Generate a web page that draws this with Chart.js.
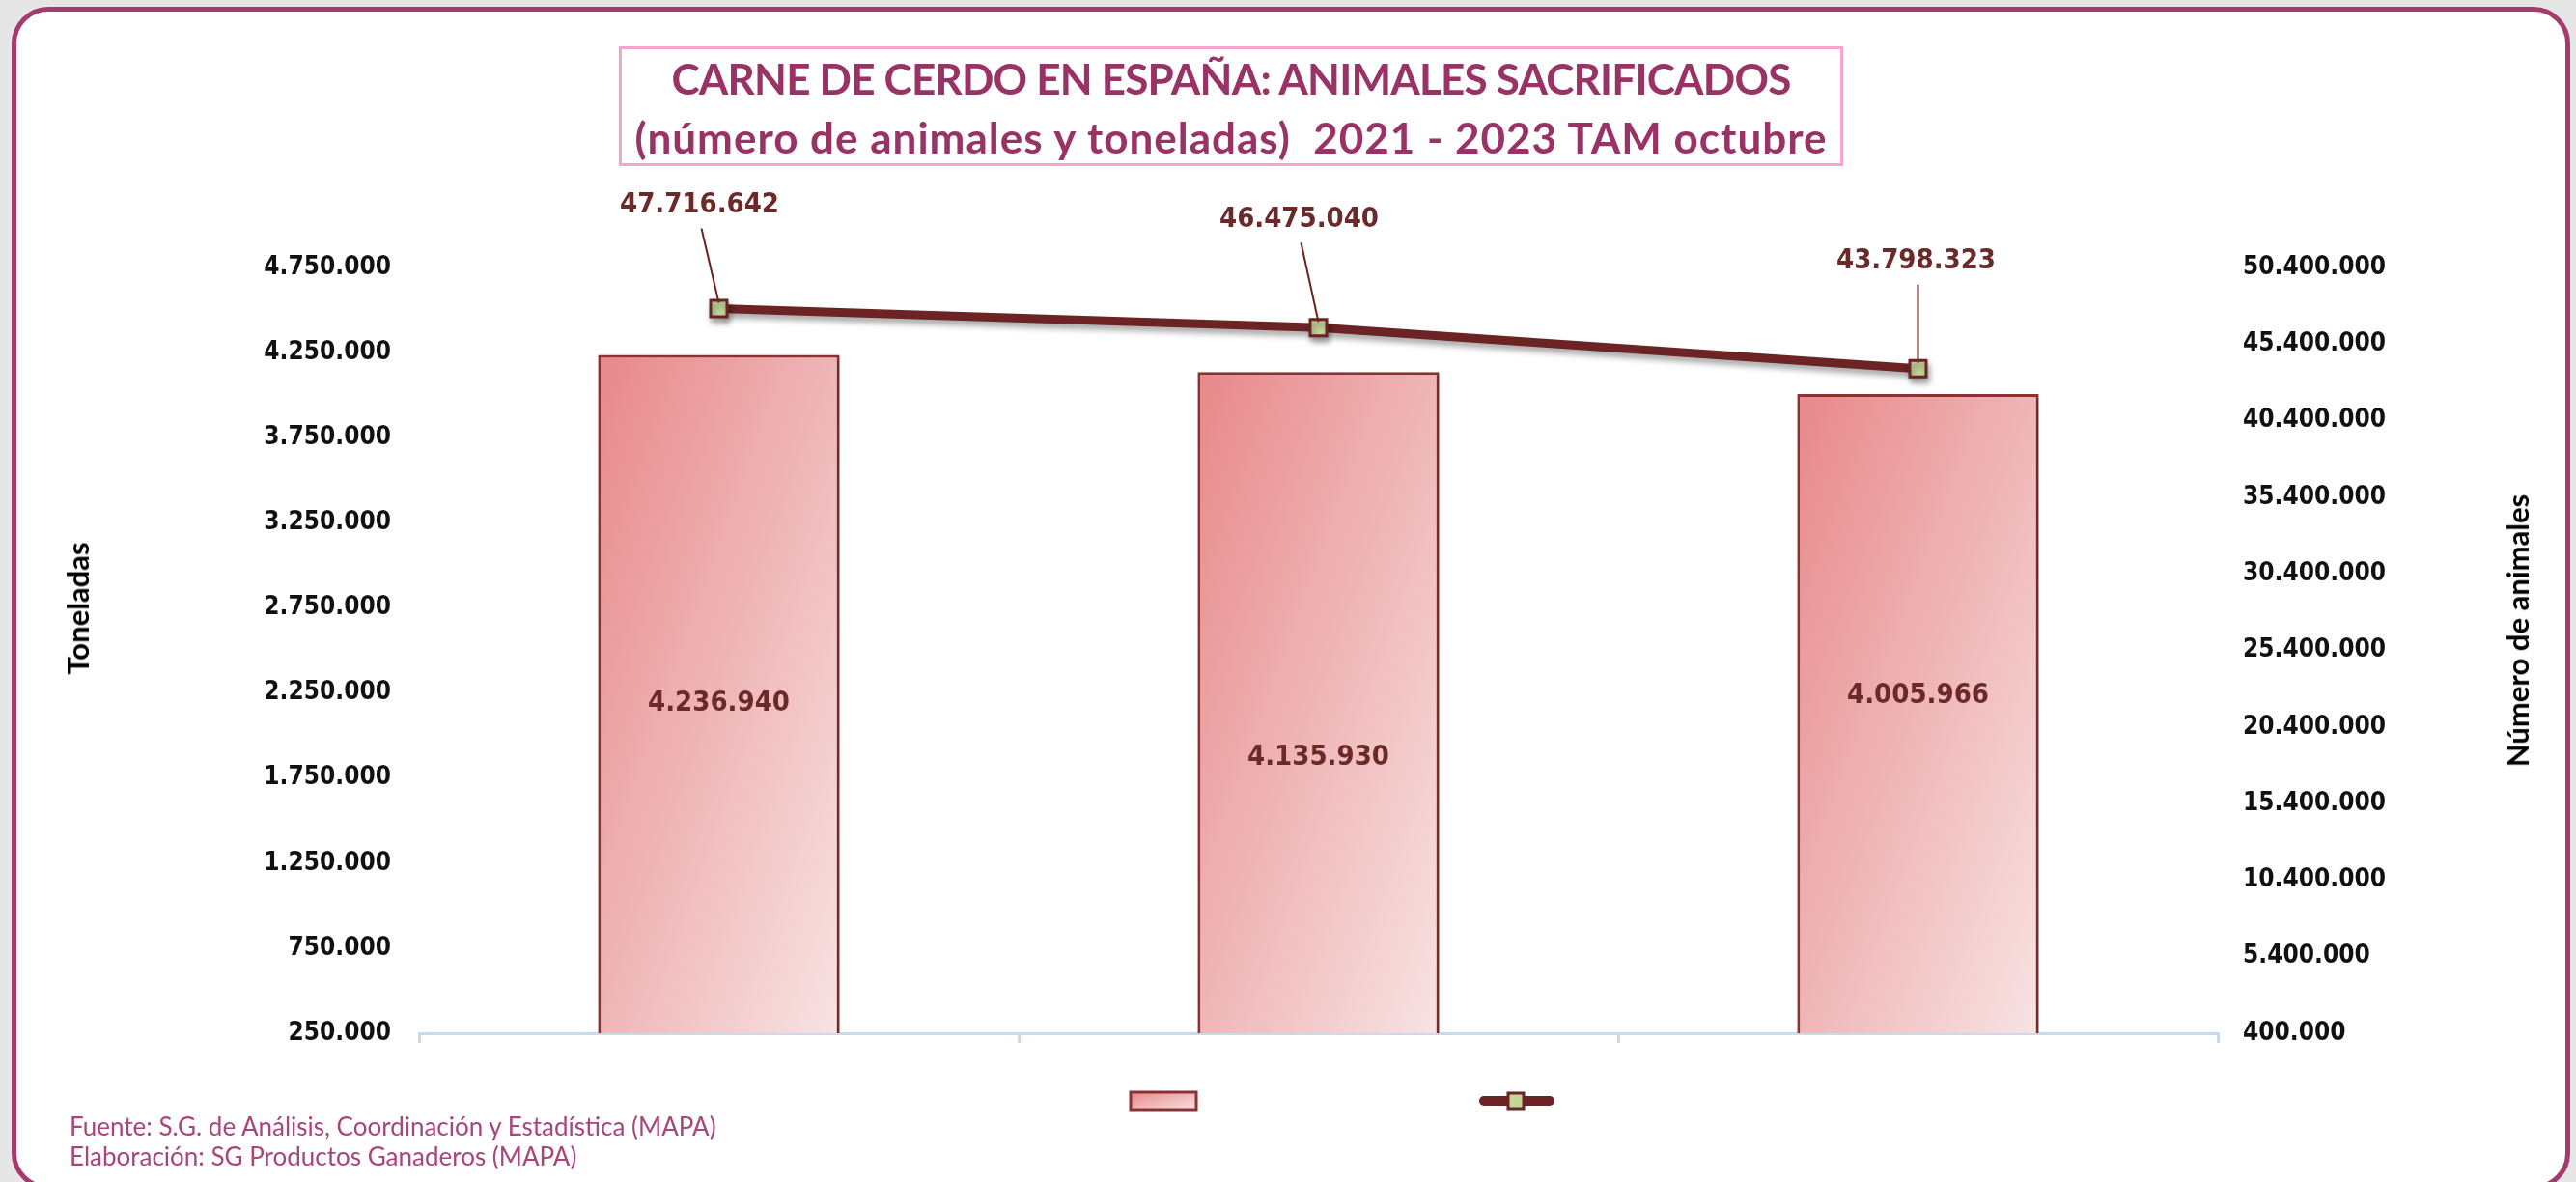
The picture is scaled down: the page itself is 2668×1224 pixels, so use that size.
<!DOCTYPE html>
<html lang="es">
<head>
<meta charset="utf-8">
<title>Carne de cerdo en España</title>
<script src="https://cdn.jsdelivr.net/npm/chart.js@4.4.1/dist/chart.umd.min.js"></script>
<style>
  html, body { margin: 0; padding: 0; }
  body {
    width: 2668px; height: 1224px; position: relative; overflow: hidden;
    background: #e6e6e6; font-family: Lato, "Noto Sans", sans-serif;
  }
  #frame {
    position: absolute; left: 12px; top: 7px; width: 2650px; height: 1225px;
    box-sizing: border-box; border: 5px solid #a53a6e; border-radius: 38px; background: #fff;
  }
  #chart { position: absolute; left: 0; top: 0; }
  #title {
    position: absolute; left: 641px; top: 48px; width: 1268px; height: 124px;
    box-sizing: border-box; border: 3px solid #f5a3cf;
    color: #993366; font-weight: 700; font-size: 44px; line-height: 61px; text-align: center;
    white-space: pre;
  }
  #title .l1 { letter-spacing: -0.8px; }
  #title .l2 { letter-spacing: 1px; }
  .axis-title {
    position: absolute; font-weight: 700; font-size: 31px; color: #000; white-space: nowrap;
    transform: translate(-50%, -50%) rotate(-90deg);
  }
  #footer {
    position: absolute; left: 72px; top: 1151px;
    color: #a8467c; font-size: 26px; line-height: 31px;
  }
</style>
</head>
<body>
<div id="frame"></div>
<canvas id="chart" width="2668" height="1224"></canvas>
<div id="title"><span class="l1">CARNE DE CERDO EN ESPAÑA: ANIMALES SACRIFICADOS</span>
<span class="l2">(número de animales y toneladas)  2021 - 2023 TAM octubre</span></div>
<div class="axis-title" style="left:80px; top:630px;">Toneladas</div>
<div class="axis-title" style="left:2607px; top:653px;">Número de animales</div>
<div id="footer">Fuente: S.G. de Análisis, Coordinación y Estadística (MAPA)<br>Elaboración: SG Productos Ganaderos (MAPA)</div>

<script>
/* ======================================
   DATA
====================================== */
const categories = ["2021", "2022", "2023"];
const toneladas = [4236940, 4135930, 4005966];
const animales = [47716642, 46475040, 43798323];

const tonAxis = { min: 250000, max: 4750000, step: 500000 };
const animAxis = { min: 400000, max: 50400000, step: 5000000 };

// label nudges (px), as placed by hand in the original
const barLabelShift = [10, 57, -19];
const lineLabelShift = [[-20, -107], [-20, -112], [-2, -111]];


/* ======================================
   STYLE
====================================== */
const LINE_COLOR = "#6b2323";
const BAR_BORDER = "#8e3131";
const MARKER_FILL = "#c4d79b";
const LABEL_COLOR = "#6b2929";
const AXIS_BLUE = "#c9d9ef";
const BAR_PCT = 0.403;
const NUM_FONT = "'DejaVu Sans Condensed', 'DejaVu Sans', sans-serif";


/* ======================================
   HELPERS
====================================== */
function fmt(v) {
  return String(Math.round(v)).replace(/\B(?=(\d{3})+(?!\d))/g, ".");
}

// diagonal fill like the excel bars: dark top-left, pale bottom-right
function rectGradient(ctx, x, y, w, h) {
  const k = 2 * w * h / (w * w + h * h);
  const g = ctx.createLinearGradient(x, y, x + h * k, y + w * k);
  g.addColorStop(0, "#e8888a");
  g.addColorStop(0.5, "#efb6b7");
  g.addColorStop(1, "#f8e3e3");
  return g;
}

function barFill(c) {
  const chart = c.chart;
  const area = chart.chartArea;
  if (!area || c.type !== "data") return "#efb6b7";
  const w = (area.right - area.left) / categories.length * BAR_PCT;
  const x = chart.scales.x.getPixelForValue(c.dataIndex) - w / 2;
  const top = chart.scales.y.getPixelForValue(c.raw);
  return rectGradient(chart.ctx, x, top, w, area.bottom - top);
}


/* ======================================
   PLUGINS
====================================== */
const shadowPlugin = {
  id: "shadows",
  beforeDatasetDraw(chart, args) {
    const ctx = chart.ctx;
    ctx.save();
    if (args.meta.type === "line") {
      ctx.shadowColor = "rgba(0,0,0,0.35)";
      ctx.shadowBlur = 6;
      ctx.shadowOffsetX = 2;
      ctx.shadowOffsetY = 5;
    } else {
      ctx.shadowColor = "rgba(0,0,0,0.2)";
      ctx.shadowBlur = 5;
      ctx.shadowOffsetX = 3;
      ctx.shadowOffsetY = 2;
    }
  },
  afterDatasetDraw(chart) {
    chart.ctx.restore();
  }
};

const labelPlugin = {
  id: "valueLabels",
  afterDatasetsDraw(chart) {
    const ctx = chart.ctx;
    const bottom = chart.chartArea.bottom;
    ctx.save();
    ctx.font = "bold 29px " + NUM_FONT;
    ctx.fillStyle = LABEL_COLOR;
    ctx.textAlign = "center";
    ctx.textBaseline = "middle";

    // bar base sits at 0, below the axis min, so use the visible bottom
    chart.getDatasetMeta(0).data.forEach((bar, i) => {
      const y = (bar.y + Math.min(bar.base, bottom)) / 2 + barLabelShift[i];
      ctx.fillText(fmt(toneladas[i]), bar.x, y);
    });

    chart.getDatasetMeta(1).data.forEach((pt, i) => {
      const lx = pt.x + lineLabelShift[i][0];
      const ly = pt.y + lineLabelShift[i][1];
      ctx.strokeStyle = LINE_COLOR;
      ctx.lineWidth = 2;
      ctx.beginPath();
      ctx.moveTo(lx + 2, ly + 24);
      ctx.lineTo(pt.x, pt.y - 6);
      ctx.stroke();
      ctx.fillText(fmt(animales[i]), lx, ly);
    });
    ctx.restore();
  }
};

// legend without text: only the two swatches
const swatchPlugin = {
  id: "swatches",
  afterDraw(chart) {
    const ctx = chart.ctx;
    ctx.save();
    ctx.fillStyle = rectGradient(ctx, 1171, 1131, 68, 18);
    ctx.fillRect(1171, 1131, 68, 18);
    ctx.strokeStyle = BAR_BORDER;
    ctx.lineWidth = 3;
    ctx.strokeRect(1171, 1131, 68, 18);

    ctx.strokeStyle = LINE_COLOR;
    ctx.lineWidth = 10;
    ctx.lineCap = "round";
    ctx.beginPath();
    ctx.moveTo(1537, 1140);
    ctx.lineTo(1605, 1140);
    ctx.stroke();
    ctx.fillStyle = MARKER_FILL;
    ctx.fillRect(1562, 1132, 16, 16);
    ctx.lineWidth = 3;
    ctx.strokeRect(1562, 1132, 16, 16);
    ctx.restore();
  }
};


/* ======================================
   CHART
====================================== */
document.addEventListener("DOMContentLoaded", () => {
  const tickFont = { family: NUM_FONT, size: 26, weight: "bold" };

  new Chart(document.getElementById("chart"), {
    data: {
      labels: categories,
      datasets: [
        {
          type: "bar",
          label: "Toneladas",
          data: toneladas,
          yAxisID: "y",
          order: 1,
          backgroundColor: barFill,
          borderColor: BAR_BORDER,
          borderWidth: 3,
          barPercentage: BAR_PCT,
          categoryPercentage: 1
        },
        {
          type: "line",
          label: "Número de animales",
          data: animales,
          yAxisID: "y1",
          order: 0,
          borderColor: LINE_COLOR,
          borderWidth: 9,
          tension: 0,
          fill: false,
          pointStyle: "rect",
          pointRadius: 12,
          pointBorderWidth: 3,
          pointBackgroundColor: MARKER_FILL,
          pointBorderColor: LINE_COLOR
        }
      ]
    },
    options: {
      responsive: false,
      animation: false,
      devicePixelRatio: 1,
      layout: { padding: { left: 0, right: 0, top: 277, bottom: 144 } },
      plugins: {
        legend: { display: false },
        title: { display: false },
        tooltip: { enabled: false }
      },
      scales: {
        x: {
          offset: true,
          ticks: { display: false },
          grid: {
            display: true, offset: true, drawOnChartArea: false,
            drawTicks: true, tickLength: 10, color: AXIS_BLUE, lineWidth: 3
          },
          border: { display: true, color: AXIS_BLUE, width: 3 },
          afterFit: s => { s.height = 10; }
        },
        y: {
          position: "left",
          min: tonAxis.min,
          max: tonAxis.max,
          grid: { display: false, drawTicks: false },
          border: { display: false },
          ticks: {
            stepSize: tonAxis.step,
            padding: 29,
            color: "#111",
            font: tickFont,
            callback: v => fmt(v)
          },
          afterFit: s => { s.width = 434; }
        },
        y1: {
          position: "right",
          min: animAxis.min,
          max: animAxis.max,
          grid: { display: false, drawTicks: false },
          border: { display: false },
          ticks: {
            stepSize: animAxis.step,
            padding: 26,
            color: "#111",
            font: tickFont,
            callback: v => fmt(v)
          },
          afterFit: s => { s.width = 371; }
        }
      }
    },
    plugins: [shadowPlugin, labelPlugin, swatchPlugin]
  });
});
</script>
</body>
</html>
